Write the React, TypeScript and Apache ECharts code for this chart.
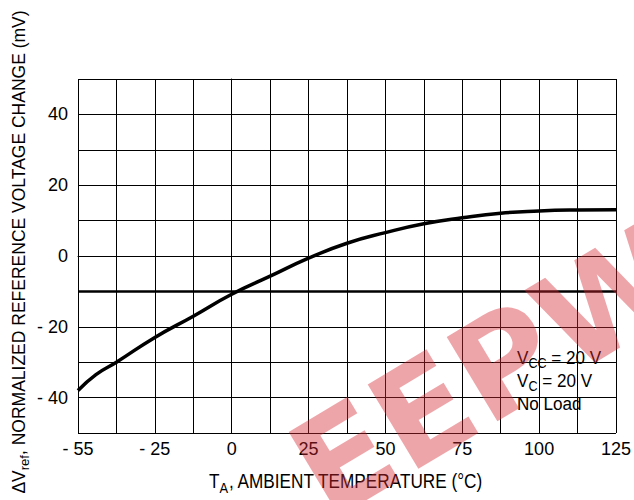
import React, { useEffect, useRef } from "react";
import * as echarts from "echarts";

// Ambient temperature (°C) and normalized reference voltage change (mV)
const temps = [-55, -48, -40, -25, -12.5, 0, 12.5, 25, 37.5, 50, 62.5, 75, 87.5, 100, 112.5, 125];
const deltaV = [-38, -33.5, -30, -23, -17, -10.8, -5.7, -0.6, 3.6, 6.6, 9.1, 10.8, 12.1, 12.7, 13.0, 13.1];

const xTickLabels: Record<string, string> = {
  "-50": "- 55",
  "-25": "- 25",
  "0": "0",
  "25": "25",
  "50": "50",
  "75": "75",
  "100": "100",
  "125": "125",
};
const yTickValues = [-40, -20, 0, 20, 40];
const conditionLines = [
  ["V", "CC", " = 20 V"],
  ["V", "C", " = 20 V"],
  ["No Load", "", ""],
];

// The chart's scale is compressed between -55 and -25 (30 °C drawn as 25 units)
const tempToAxis = (t: number) => (t < -25 ? -25 + ((t + 25) * 25) / 30 : t);

const FONT = "'Liberation Sans', Arial, Helvetica, sans-serif";

export default function App() {
  const ref = useRef<HTMLDivElement>(null);
  useEffect(() => {
    if (!ref.current) return;
    const chart = echarts.init(ref.current, null, { renderer: "svg" });
    const data = temps.map((t, i) => [tempToAxis(t), deltaV[i]]);
    const subRich = {
      m: { fontSize: 19, lineHeight: 19, verticalAlign: "top", fontFamily: FONT, fill: "#000" },
      s: { fontSize: 14, lineHeight: 14, padding: [8, 0, 0, 0], verticalAlign: "top", fontFamily: FONT, fill: "#000" },
    };
    const condGraphics = conditionLines.map((ln, i) => ({
      type: "text",
      x: 517,
      y: 348 + i * 23,
      scaleX: 0.9,
      z: 50,
      style: {
        text: ln[1] ? `{m|${ln[0]}}{s|${ln[1]}}{m|${ln[2]}}` : `{m|${ln[0]}}`,
        rich: subRich,
      },
    }));
    chart.setOption({
      animation: false,
      backgroundColor: "#fff",
      grid: { left: 78, right: 16, top: 79, bottom: 67, containLabel: false },
      xAxis: {
        type: "value",
        min: -50,
        max: 125,
        interval: 12.5,
        axisLine: { show: true, lineStyle: { color: "#000", width: 1 } },
        axisTick: { show: false },
        splitLine: { show: true, lineStyle: { color: "#000", width: 1 } },
        axisLabel: {
          margin: 7,
          fontSize: 18,
          fontFamily: FONT,
          color: "#000",
          formatter: (v: number) => xTickLabels[String(v)] ?? "",
        },
      },
      yAxis: {
        type: "value",
        min: -50,
        max: 50,
        interval: 10,
        axisLine: { show: true, lineStyle: { color: "#000", width: 1 } },
        axisTick: { show: false },
        splitLine: { show: true, lineStyle: { color: "#000", width: 1 } },
        axisLabel: {
          margin: 10,
          fontSize: 18,
          fontFamily: FONT,
          color: "#000",
          formatter: (v: number) =>
            yTickValues.includes(v) ? (v < 0 ? "- " + Math.abs(v) : String(v)) : "",
        },
      },
      series: [
        {
          type: "line",
          data,
          smooth: 0.5,
          showSymbol: false,
          lineStyle: { color: "#000", width: 3.5 },
          markLine: {
            silent: true,
            symbol: "none",
            label: { show: false },
            lineStyle: { color: "#000", width: 2.5, type: "solid" },
            data: [{ yAxis: -10 }],
          },
        },
      ],
      graphic: [
        {
          type: "text",
          x: 346,
          y: 481,
          scaleX: 0.86,
          style: {
            text: "{m|T}{s|A}{m|, AMBIENT TEMPERATURE (°C)}",
            align: "center",
            verticalAlign: "middle",
            rich: {
              m: { fontSize: 20, lineHeight: 20, verticalAlign: "top", fontFamily: FONT, fill: "#000" },
              s: { fontSize: 15, lineHeight: 15, padding: [9, 0, 0, 0], verticalAlign: "top", fontFamily: FONT, fill: "#000" },
            },
          },
        },
        {
          type: "text",
          x: 19,
          y: 252,
          rotation: Math.PI / 2,
          style: {
            text: "{m|ΔV}{s|ref}{m|, NORMALIZED REFERENCE VOLTAGE CHANGE (mV)}",
            align: "center",
            verticalAlign: "middle",
            rich: {
              m: { fontSize: 17.5, lineHeight: 17.5, verticalAlign: "top", fontFamily: FONT, fill: "#000" },
              s: { fontSize: 13, lineHeight: 13, padding: [8, 0, 0, 0], verticalAlign: "top", fontFamily: FONT, fill: "#000" },
            },
          },
        },
        ...condGraphics,
        {
          type: "text",
          x: 270,
          y: 425,
          rotation: (31 * Math.PI) / 180,
          z: 100,
          silent: true,
          style: {
            text: "EEPW",
            align: "left",
            verticalAlign: "top",
            fontSize: 135,
            fontWeight: "bold",
            fontFamily: "'DejaVu Sans', 'Liberation Sans', sans-serif",
            fill: "rgba(215,40,50,0.42)",
          },
        },
      ],
    });
    return () => chart.dispose();
  }, []);
  return (
    <div
      ref={ref}
      style={{ position: "fixed", left: 0, top: 0, width: 634, height: 500 }}
    />
  );
}
